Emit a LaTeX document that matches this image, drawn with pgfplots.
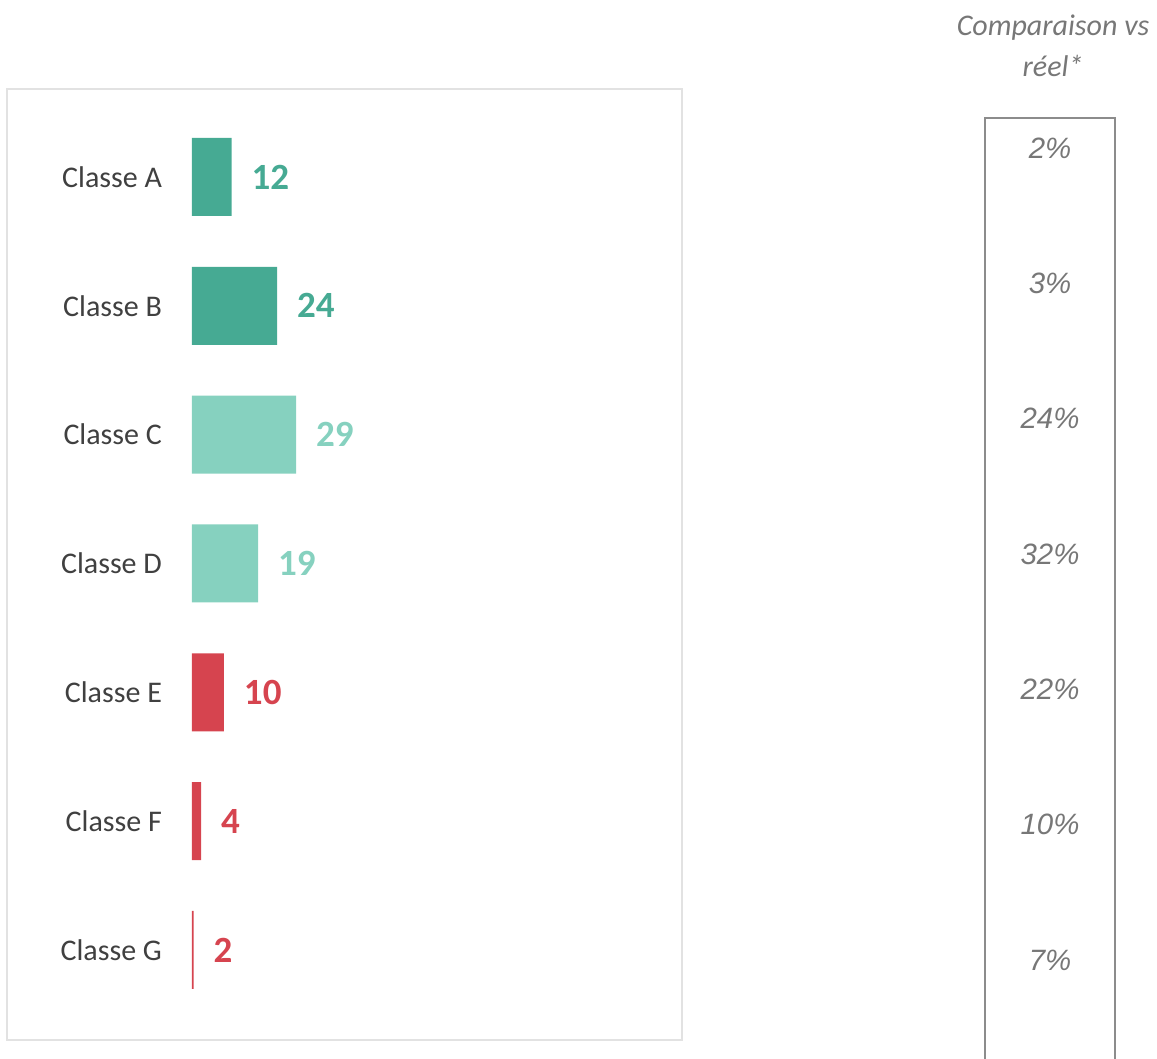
\documentclass[border=0pt]{standalone}
\usepackage{pgfplots}
\pgfplotsset{compat=1.18}
\usepackage{fontspec}
\setmainfont{Carlito}
\newfontfamily\arialfont{Liberation Sans}

\definecolor{tealdark}{HTML}{46AA93}
\definecolor{teallight}{HTML}{86D1BF}
\definecolor{redbar}{HTML}{D6444F}
\definecolor{labelgray}{HTML}{404040}
\definecolor{pctgray}{HTML}{777777}
\definecolor{boxgray}{HTML}{E2E2E2}
\definecolor{linegray}{HTML}{8C8C8C}

\begin{document}
\begin{tikzpicture}
\path[use as bounding box] (0,0) rectangle (578.5pt,529.5pt);
% frame round the bars
\draw[boxgray, line width=1pt] (3.5pt,9.5pt) rectangle (341pt,485pt);

\begin{axis}[
    at={(96pt,9.5pt)}, anchor=south west,
    scale only axis, width=245pt, height=475.5pt,
    xbar, bar width=39pt, bar shift=0pt,
    xmin=1.6, xmax=130.5,
    ymin=0.317, ymax=7.699, y dir=reverse,
    axis line style={draw=none},
    xtick=\empty,
    ytick={1,...,7},
    yticklabels={Classe A, Classe B, Classe C, Classe D, Classe E, Classe F, Classe G},
    major tick length=0pt,
    yticklabel style={font=\fontsize{15}{18}\selectfont, text=labelgray, xshift=-11.5pt},
    /pgf/number format/assume math mode=true,
    nodes near coords,
    nodes near coords style={font=\bfseries\fontsize{18.5}{22}\selectfont, xshift=6.5pt},
  ]
\addplot[fill=tealdark, draw=none, nodes near coords style={text=tealdark}]
  coordinates {(12,1) (24,2)};
\addplot[fill=teallight, draw=none, nodes near coords style={text=teallight}]
  coordinates {(29,3) (19,4)};
\addplot[fill=redbar, draw=none, nodes near coords style={text=redbar}]
  coordinates {(10,5) (4,6) (2,7)};
\end{axis}

\node[align=center, text=pctgray, font=\itshape\fontsize{15}{20.5}\selectfont]
  at (526.5pt,506.75pt) {Comparaison vs\\réel*};

\begin{axis}[
    at={(492.5pt,0pt)}, anchor=south west,
    scale only axis, width=65pt, height=470.5pt,
    xmin=0, xmax=1,
    ymin=0.778, ymax=7.73, y dir=reverse,
    hide axis, clip=false,
    /pgf/number format/assume math mode=true,
  ]
\draw[linegray, line width=1pt] (rel axis cs:0,0) -- (rel axis cs:0,1)
  -- (rel axis cs:1,1) -- (rel axis cs:1,0);
\addplot[draw=none, mark=none, point meta=explicit,
  nodes near coords={\pgfmathprintnumber{\pgfplotspointmeta}\%},
  nodes near coords style={anchor=center, text=pctgray,
    font=\arialfont\itshape\fontsize{14.7}{17}\selectfont}]
  coordinates {(0.5,1) [2] (0.5,2) [3] (0.5,3) [24] (0.5,4) [32]
               (0.5,5) [22] (0.5,6) [10] (0.5,7) [7]};
\end{axis}
\end{tikzpicture}
\end{document}
